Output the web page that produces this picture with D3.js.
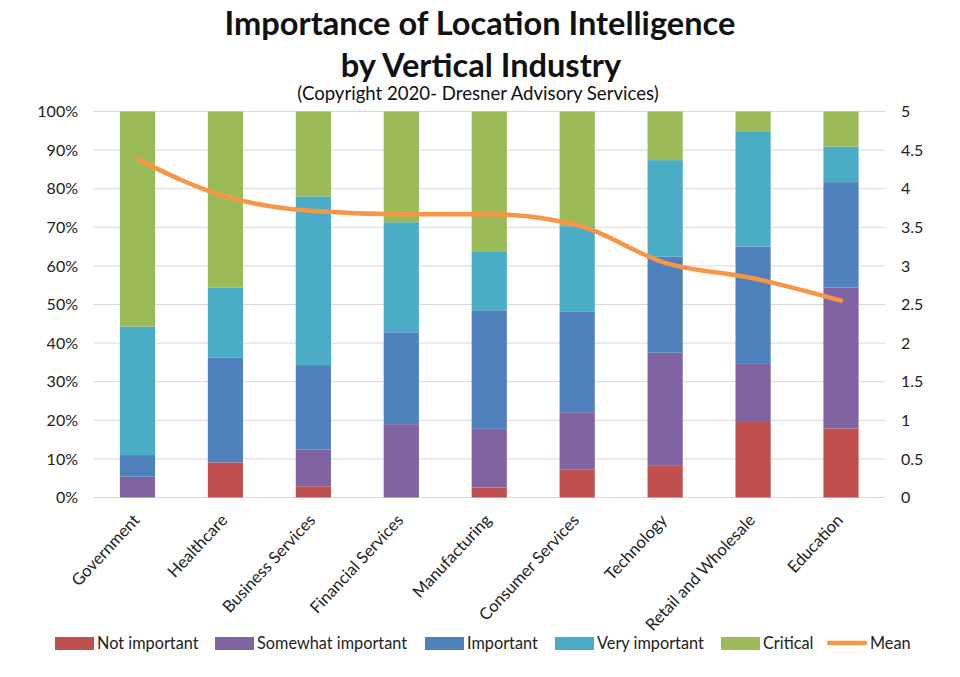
<!DOCTYPE html>
<html>
<head>
<meta charset="utf-8">
<script src="https://cdn.jsdelivr.net/npm/d3@7"></script>
<style>
  html, body { margin: 0; padding: 0; background: #fff; }
  text { font-family: Lato, "Open Sans", sans-serif; fill: #222; }
</style>
</head>
<body>
<svg id="chart" width="960" height="677"></svg>
<script>
const industries = ["Government", "Healthcare", "Business Services", "Financial Services", "Manufacturing", "Consumer Services", "Technology", "Retail and Wholesale", "Education"];
const seriesNames = ["Not important", "Somewhat important", "Important", "Very important", "Critical"];
const seriesColors = ["#c0504d", "#8064a2", "#4f81bd", "#4bacc6", "#9bbb59"];
const meanColor = "#f79646";

// share of respondents (%)
const notImportant = [0, 9.1, 2.9, 0, 2.6, 7.3, 8.2, 19.8, 17.9];
const somewhatImportant = [5.4, 0, 9.5, 19, 15.2, 14.8, 29.3, 15, 36.5];
const important = [5.6, 27.2, 21.9, 23.8, 30.7, 26, 24.9, 30.2, 27.3];
const veryImportant = [33.3, 18.1, 43.7, 28.5, 15.3, 22.2, 25, 29.9, 9.2];
const critical = [55.7, 45.6, 22, 28.7, 36.2, 29.7, 12.6, 5.1, 9.1];
const mean = [4.38, 3.9, 3.71, 3.67, 3.67, 3.53, 3.04, 2.84, 2.55];

const leftTicks = [0, 10, 20, 30, 40, 50, 60, 70, 80, 90, 100];
const rightTicks = [0, 0.5, 1, 1.5, 2, 2.5, 3, 3.5, 4, 4.5, 5];

const svg = d3.select("#chart");
const plot = { left: 93.5, right: 885, top: 111.5, bottom: 497.5 };

const x = d3.scaleBand().domain(industries).range([plot.left, plot.right]).paddingInner(0.6).paddingOuter(0.3);
const yPct = d3.scaleLinear().domain([0, 100]).range([plot.bottom, plot.top]);
const yMean = d3.scaleLinear().domain([0, 5]).range([plot.bottom, plot.top]);

// title
svg.append("text").attr("x", 480).attr("y", 35).attr("text-anchor", "middle")
  .attr("font-size", 32.6).attr("font-weight", 700).style("fill", "#111")
  .text("Importance of Location Intelligence");
svg.append("text").attr("x", 481).attr("y", 77).attr("text-anchor", "middle")
  .attr("font-size", 32.6).attr("font-weight", 700).style("fill", "#111")
  .text("by Vertical Industry");
svg.append("text").attr("x", 478).attr("y", 100).attr("text-anchor", "middle")
  .attr("font-size", 18.6).style("fill", "#111")
  .text("(Copyright 2020- Dresner Advisory Services)");

// gridlines
svg.append("g").selectAll("line").data(leftTicks).join("line")
  .attr("x1", plot.left).attr("x2", plot.right)
  .attr("y1", d => yPct(d)).attr("y2", d => yPct(d))
  .attr("stroke", "#d9d9d9").attr("stroke-width", 1);

// stacked bars
const rows = industries.map((name, i) => ({
  name,
  "Not important": notImportant[i],
  "Somewhat important": somewhatImportant[i],
  "Important": important[i],
  "Very important": veryImportant[i],
  "Critical": critical[i]
}));
const stacked = d3.stack().keys(seriesNames)(rows);

svg.append("g").selectAll("g").data(stacked).join("g")
  .attr("fill", (d, i) => seriesColors[i])
  .selectAll("rect").data(d => d).join("rect")
  .attr("x", d => x(d.data.name))
  .attr("width", x.bandwidth())
  .attr("y", d => yPct(d[1]))
  .attr("height", d => yPct(d[0]) - yPct(d[1]));

// mean line
const meanLine = d3.line()
  .x((d, i) => x(industries[i]) + x.bandwidth() / 2)
  .y(d => yMean(d))
  .curve(d3.curveMonotoneX);

svg.append("path").datum(mean)
  .attr("d", meanLine)
  .attr("fill", "none")
  .attr("stroke", meanColor)
  .attr("stroke-width", 4.5)
  .attr("stroke-linecap", "round");

// axes
svg.append("g").selectAll("text").data(leftTicks).join("text")
  .attr("x", 78).attr("y", d => yPct(d)).attr("dy", "0.35em")
  .attr("text-anchor", "end").attr("font-size", 16)
  .text(d => d + "%");

svg.append("g").selectAll("text").data(rightTicks).join("text")
  .attr("x", 901).attr("y", d => yMean(d)).attr("dy", "0.35em")
  .attr("font-size", 16)
  .text(d => d);

svg.append("g").selectAll("text").data(industries).join("text")
  .attr("text-anchor", "end")
  .attr("font-size", 16.5)
  .attr("transform", d => `translate(${x(d) + x.bandwidth() / 2 + 3},${521}) rotate(-47)`)
  .text(d => d);

// legend, offsets are where each entry starts
const legendItems = seriesNames.concat("Mean");
const legendX = [55, 215, 425, 555, 721, 827];

const legend = svg.append("g").selectAll("g").data(legendItems).join("g")
  .attr("transform", (d, i) => `translate(${legendX[i]},643)`);

legend.filter(d => d !== "Mean").append("rect")
  .attr("x", 0).attr("y", -6).attr("width", 39).attr("height", 13)
  .attr("fill", (d, i) => seriesColors[i]);

legend.filter(d => d === "Mean").append("line")
  .attr("x1", 2).attr("x2", 38).attr("y1", 0).attr("y2", 0)
  .attr("stroke", meanColor).attr("stroke-width", 4.5).attr("stroke-linecap", "round");

legend.append("text")
  .attr("x", d => d === "Mean" ? 43 : 42).attr("y", 0).attr("dy", "0.35em")
  .attr("font-size", 16.3)
  .text(d => d);
</script>
</body>
</html>
